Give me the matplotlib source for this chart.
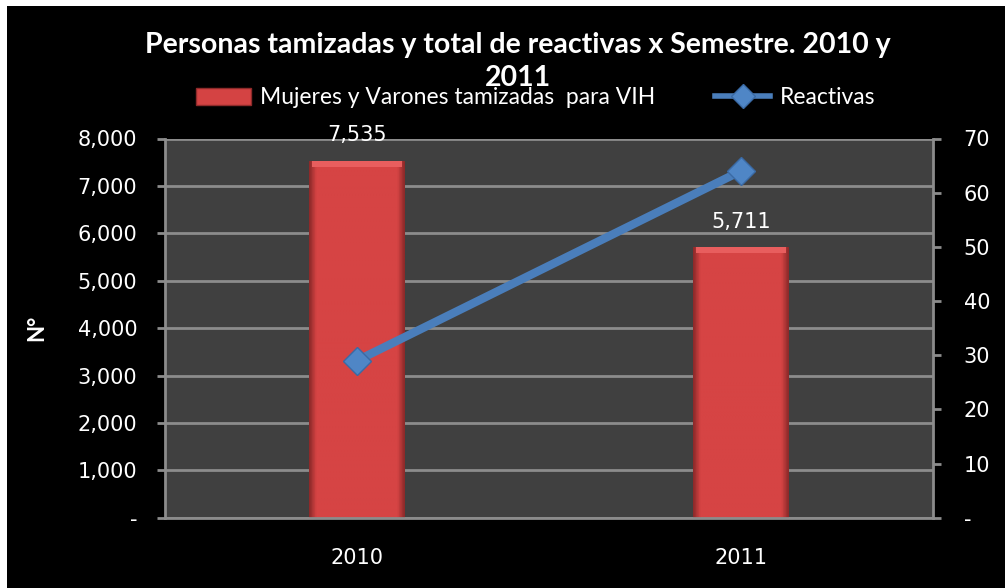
import matplotlib
matplotlib.use("Agg")
import matplotlib.pyplot as plt
import numpy as np
from matplotlib.patches import Rectangle
from matplotlib.lines import Line2D
from matplotlib.colors import LinearSegmentedColormap

categories = ["2010", "2011"]
tamizadas = [7535, 5711]
reactivas = [29, 64]
left_ticks = [0, 1000, 2000, 3000, 4000, 5000, 6000, 7000, 8000]
left_labels = ["-", "1,000", "2,000", "3,000", "4,000", "5,000", "6,000", "7,000", "8,000"]
right_ticks = [0, 10, 20, 30, 40, 50, 60, 70]
right_labels = ["-", "10", "20", "30", "40", "50", "60", "70"]
title_l1 = "Personas tamizadas y total de reactivas x Semestre. 2010 y"
title_l2 = "2011"
bar_label = "Mujeres y Varones tamizadas  para VIH"
line_label = "Reactivas"

plt.rcParams['font.family'] = ['Lato', 'DejaVu Sans']
W, H = 1005, 588
fig = plt.figure(figsize=(W/100, H/100), dpi=100)
fig.patch.set_facecolor("white")
fig.add_artist(Rectangle((7/W, 0), 1, 1 - 6/H, transform=fig.transFigure,
                         facecolor="black", edgecolor="none", zorder=-10))

ax = fig.add_axes([165/W, 1 - 517.7/H, (933-165)/W, (517.7-138.5)/H])
ax.set_facecolor("#404040")
x = np.arange(len(categories))
bw = 0.25
bars = ax.bar(x, tamizadas, width=bw, color="#D44343", zorder=2)

grad = np.linspace(0, 1, 64)
prof = np.clip(np.minimum(grad, 1 - grad) * 14, 0, 1)
cmap = LinearSegmentedColormap.from_list("bev", ["#8E2A2A", "#D64444"])
for b in bars:
    x0, y0 = b.get_x(), b.get_y()
    w, h = b.get_width(), b.get_height()
    im = ax.imshow(prof[None, :], extent=[x0, x0 + w, y0, y0 + h], aspect="auto",
                   cmap=cmap, vmin=0, vmax=1, zorder=2.1)
    im.set_clip_path(b)
    ax.add_patch(Rectangle((x0 + w*0.03, y0 + h - 130), w*0.94, 130, facecolor="#E85E5E",
                           edgecolor="none", zorder=2.2))

ax.set_xlim(-0.5, 1.5)
ax.set_ylim(0, 8000)
ax.set_yticks(left_ticks)
ax.set_yticklabels(left_labels, family="DejaVu Sans")
ax.set_xticks(x)
ax.set_xticklabels(categories, family="DejaVu Sans")
ax.yaxis.grid(True, color="#8C8C8C", linewidth=2, zorder=1)
ax.set_axisbelow(True)
for s in ["top", "right"]:
    ax.spines[s].set_visible(False)
for s in ["left", "bottom"]:
    ax.spines[s].set_color("#8C8C8C")
    ax.spines[s].set_linewidth(2)
ax.tick_params(axis="y", colors="#8C8C8C", labelcolor="white", labelsize=15,
               length=6, width=2, pad=14)
ax.tick_params(axis="x", length=0, labelcolor="white", labelsize=15, pad=22)
ax.set_ylabel("N°", color="white", fontsize=16, fontweight="bold", labelpad=22)

for xi, v in zip(x, tamizadas):
    ax.annotate(f"{v:,}", (xi, v), xytext=(0, 11), textcoords="offset points",
                ha="center", va="bottom", color="white", fontsize=15, zorder=5,
                family="DejaVu Sans")

ax2 = ax.twinx()
ax2.set_ylim(0, 70)
ax2.set_yticks(right_ticks)
ax2.set_yticklabels(right_labels, family="DejaVu Sans")
for s in ["top", "left", "bottom"]:
    ax2.spines[s].set_visible(False)
ax2.spines["right"].set_color("#8C8C8C")
ax2.spines["right"].set_linewidth(2)
ax2.tick_params(axis="y", colors="#8C8C8C", labelcolor="white", labelsize=15,
                length=6, width=2, pad=16)
ax2.plot(x, reactivas, color="#4A7EBB", linewidth=6, marker="D",
         markersize=14, markerfacecolor="#4F86C6", markeredgecolor="#3A6AA5",
         markeredgewidth=1, zorder=5, solid_capstyle="butt")

fig.text(0.515, 1 - 45/H, title_l1, ha="center", va="center", color="white",
         fontsize=20.5, fontweight="bold")
fig.text(0.515, 1 - 78/H, title_l2, ha="center", va="center", color="white",
         fontsize=20.5, fontweight="bold")

bar_handle = Rectangle((0, 0), 1, 1, facecolor="#D44343", edgecolor="#8E2A2A")
line_handle = Line2D([], [], color="#4A7EBB", linewidth=4, marker="D", markersize=12,
                     markerfacecolor="#4F86C6", markeredgecolor="#3A6AA5")
fig.legend([bar_handle, line_handle], [bar_label, line_label],
           loc="center", bbox_to_anchor=(0.533, 1 - 98/H), ncol=2, frameon=False,
           fontsize=16.5, labelcolor="white", handlelength=2.4, handleheight=0.7,
           handletextpad=0.4, columnspacing=2.6)

fig.savefig("out.png", dpi=100, facecolor=fig.get_facecolor())
